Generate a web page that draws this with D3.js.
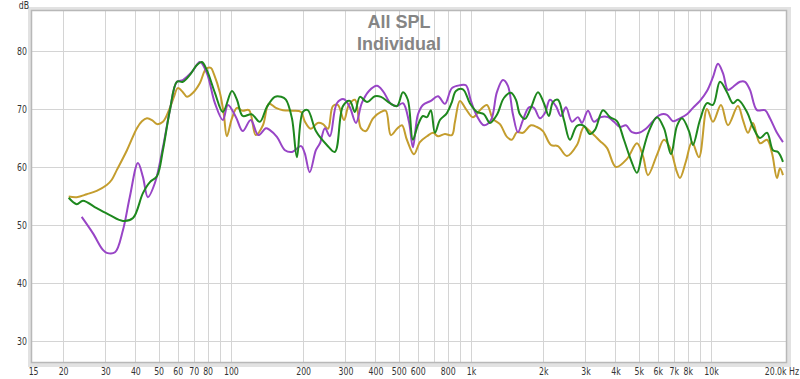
<!DOCTYPE html>
<html>
<head>
<meta charset="utf-8">
<script src="https://cdn.jsdelivr.net/npm/d3@7"></script>
<style>
  html, body { margin: 0; padding: 0; background: #fff; }
  svg { display: block; }
</style>
</head>
<body>
<svg id="chart" width="800" height="379"></svg>
<script>
// measured SPL, three positions (Hz / dB)
const goldFreq = [21.1,22.8,25.1,27.6,30.4,31.9,33.5,36.9,40.6,42.6,44.7,46.9,49.2,52.1,55.7,57.9,60.1,63.1,65.6,69.5,74.3,78.7,82.5,85.0,90.0,93.5,96.2,101,106,112,119,127,136,144,154,165,181,196,203,215,230,242,254,266,279,296,310,329,348,365,391,422,442,464,492,516,541,579,613,656,695,729,779,833,858,900,953,1019,1090,1166,1235,1321,1413,1482,1555,1647,1778,1884,1995,2154,2304,2512,2765,2957,3162,3447,3687,4019,4467,4917,5208,5464,5957,6371,6749,7218,7428,7868,8333,8913,9624,10193,11007,11771,12953,13594,14262,14962,16002,17113,17953,18836,19387,19953];
const goldDb = [54.9,54.8,55.3,55.9,56.9,57.8,59.5,62.9,66.7,67.9,68.4,68.1,67.4,67.8,70.2,72.1,73.6,72.9,72.1,72.8,74.5,76.9,77.1,76.0,72.8,69.0,65.3,68.4,70.2,69.7,69.8,65.5,67.2,70.9,70.2,69.8,69.7,69.5,67.9,66.6,67.6,67.4,66.6,70.5,70.7,68.1,70.7,71.6,66.7,66.2,68.4,69.5,69.7,65.5,66.6,67.2,64.7,62.2,64.3,65.3,65.9,65.3,65.7,65.5,67.8,71.4,70.0,68.6,69.8,70.7,68.3,67.4,65.2,64.7,66.0,65.9,67.2,66.9,66.2,63.8,63.6,61.9,63.8,66.9,66.0,64.5,63.3,60.0,61.4,64.1,61.9,58.6,62.1,64.7,63.3,59.1,58.1,61.0,64.3,61.7,70.0,67.8,70.7,67.2,70.5,68.1,65.9,67.6,64.1,64.7,62.4,58.1,59.8,58.6];

const greenFreq = [21.1,22.8,24.2,27.6,31.3,35.5,39.1,43.0,46.0,49.2,52.1,55.7,59.6,63.1,67.5,72.2,75.7,79.4,85.8,92.6,101,106,112,122,132,141,152.5,162,169.5,179.6,188.4,199.5,209,226,251,271,293,313,328.5,345,369,398,422,460,492,521,546,573,601,631,656,681,708,743,794,833,866,926,990,1059,1133,1200,1283,1372,1468,1540,1600,1679,1778,1902,2014,2113,2196,2304,2441,2585,2765,2957,3132,3286,3548,3795,4058,4340,4642,4917,5158,5516,5957,6371,6813,7218,7572,8097,8414,8998,9624,10193,10902,11659,12348,12953,14125,14962,16002,17113,18126,19019,19953];
const greenDb = [54.7,53.6,54.2,52.9,51.7,50.7,51.2,55.5,57.4,58.4,62.9,69.8,74.7,74.7,75.9,77.6,78.1,76.7,72.8,69.5,73.1,71.6,68.8,69.1,67.8,70.3,72.1,72.1,71.6,68.4,61.7,69.5,69.8,66.2,63.8,62.6,70.5,71.4,69.5,72.1,71.2,72.2,72.1,71.0,70.5,72.9,71.6,64.7,67.2,68.8,68.6,69.8,65.9,68.1,69.3,71.2,73.1,73.4,71.0,69.5,69.1,67.6,69.0,71.9,72.8,71.6,69.1,68.3,70.2,72.9,71.0,68.8,71.2,71.6,68.1,64.7,67.1,67.1,65.7,66.4,69.8,68.6,67.9,64.7,61.2,59.0,62.1,66.2,68.6,66.7,62.2,67.1,68.4,66.2,63.8,68.1,71.0,70.7,74.7,72.9,71.0,71.6,69.5,66.9,65.0,65.9,62.9,62.6,60.9];

const purpleFreq = [23.9,26.6,29.3,30.4,32.9,35.5,37.9,41.0,43.0,45.1,48.2,52.1,55.7,59.6,63.1,68.8,74.3,79.4,85.8,92.6,97.2,105,112,121,130,140,145,155.5,168,180,196,203,213,226,235,246.5,258.5,276.5,295.7,313,332,351,376,406,430,464,492,521,552,573,601,631,681,729,779,833,900,953,1000,1059,1133,1212,1283,1359,1426,1496,1570,1647,1745,1830,1939,2033,2134,2260,2371,2489,2636,2791,2900,3073,3254,3480,3723,3943,4177,4424,4686,5012,5359,5733,6131,6557,6947,7428,7943,8414,8998,9624,10193,10696,11220,11771,12348,13207,13857,14538,15548,16788,17612,18836,19953];
const purpleDb = [51.4,48.6,45.7,45.2,45.3,49.1,54.8,60.7,58.3,54.8,57.2,63.4,69.8,74.7,75.0,76.4,78.1,76.2,71.0,68.1,70.7,68.6,66.2,68.1,65.5,66.7,66.4,65.2,62.9,62.6,63.6,62.4,59.1,62.9,64.1,66.7,65.3,71.0,71.7,70.3,67.6,71.0,73.1,74.0,73.1,70.9,70.5,71.0,67.8,63.4,69.0,70.7,71.4,72.2,70.9,73.6,74.1,74.1,71.4,68.8,67.2,68.1,72.9,75.0,74.0,69.1,66.0,68.1,70.3,70.2,68.4,69.3,71.6,70.5,68.8,70.3,67.8,68.6,67.6,69.7,67.8,68.6,68.6,67.8,66.9,67.2,66.0,65.9,66.6,67.9,69.0,69.0,67.9,68.4,69.1,70.2,71.4,73.1,75.5,77.8,76.2,73.3,73.8,74.7,74.7,73.3,69.8,69.8,68.4,65.9,64.3];

const xTicks = [15,20,30,40,50,60,70,80,100,200,300,400,500,600,800,1000,2000,3000,4000,5000,6000,7000,8000,10000];
const xTickLabels = ['15','20','30','40','50','60','70','80','100','200','300','400','500','600','800','1k','2k','3k','4k','5k','6k','7k','8k','10k'];
const xGrid = [20,30,40,50,60,70,80,90,100,200,300,400,500,600,700,800,900,1000,2000,3000,4000,5000,6000,7000,8000,9000,10000];
const yTicks = [30,40,50,60,70,80];

const series = [
  {name: 'gold', freq: goldFreq, db: goldDb, color: '#c49d2e'},
  {name: 'purple', freq: purpleFreq, db: purpleDb, color: '#9845c6'},
  {name: 'green', freq: greenFreq, db: greenDb, color: '#1e881e'}
];

const svg = d3.select('#chart');
const L = 32, T = 11, R = 786, B = 362;
const labelFont = 'DejaVu Sans, Verdana, sans-serif';
const squeeze = 'scale(0.78,1)';   // labels in the original are narrow

const x = d3.scaleLog().domain([14.84, 20540]).range([L, R]);
const y = d3.scaleLinear().domain([26.38, 86.9]).range([B, T]);

// frame shading
svg.append('rect').attr('x', L - 2).attr('y', T - 2).attr('width', R - L + 5).attr('height', B - T + 5)
  .attr('fill', 'none').attr('stroke', '#e2e2e2').attr('stroke-width', 4);
svg.append('rect').attr('x', L).attr('y', T).attr('width', R - L).attr('height', B - T)
  .attr('fill', '#fff');

// grid
const grid = svg.append('g').attr('stroke', '#d4d4d4').attr('stroke-width', 1);
grid.selectAll('line.v').data(xGrid).join('line').attr('class', 'v')
  .attr('x1', d => Math.round(x(d)) + 0.5).attr('x2', d => Math.round(x(d)) + 0.5)
  .attr('y1', T).attr('y2', B);
grid.selectAll('line.h').data(yTicks).join('line').attr('class', 'h')
  .attr('y1', d => Math.round(y(d)) + 0.5).attr('y2', d => Math.round(y(d)) + 0.5)
  .attr('x1', L).attr('x2', R);

// title
const title = svg.append('g').attr('fill', '#858585').attr('font-family', 'Liberation Sans, Arial, sans-serif')
  .attr('font-weight', 'bold').attr('font-size', 18).attr('text-anchor', 'middle');
title.append('text').attr('x', 399).attr('y', 28).text('All SPL');
title.append('text').attr('x', 399).attr('y', 50).text('Individual');

// curves
const line = d3.line().curve(d3.curveCatmullRom.alpha(0.5))
  .x(d => x(d[0])).y(d => y(d[1]));
svg.append('g').selectAll('path').data(series).join('path')
  .attr('fill', 'none').attr('stroke', d => d.color).attr('stroke-width', 2)
  .attr('stroke-linejoin', 'round')
  .attr('d', d => line(d.freq.map((f, i) => [f, d.db[i]])));

// frame border
svg.append('rect').attr('x', L - 0.5).attr('y', T - 0.5).attr('width', R - L + 1).attr('height', B - T + 1)
  .attr('fill', 'none').attr('stroke', '#b8b8b8').attr('stroke-width', 1.5);

// axes (labels only)
const xAxis = d3.axisBottom(x).tickValues(xTicks).tickSize(0).tickPadding(0)
  .tickFormat((d, i) => xTickLabels[i]);
const gx = svg.append('g').attr('transform', `translate(0,${B + 13})`).call(xAxis);
gx.select('.domain').remove();
gx.selectAll('text').attr('dy', 0).attr('fill', '#333').attr('transform', squeeze)
  .attr('font-family', labelFont).attr('font-size', 10);

svg.append('g').attr('transform', `translate(799,${B + 13}) ${squeeze}`)
  .append('text').attr('text-anchor', 'end')
  .attr('fill', '#333').attr('font-family', labelFont).attr('font-size', 10)
  .text('20.0k Hz');

const yAxis = d3.axisLeft(y).tickValues(yTicks).tickSize(0).tickPadding(0);
const gy = svg.append('g').attr('transform', `translate(${L - 5},0)`).call(yAxis);
gy.select('.domain').remove();
gy.selectAll('text').attr('fill', '#333').attr('transform', squeeze)
  .attr('font-family', labelFont).attr('font-size', 10);

svg.append('g').attr('transform', `translate(29,9) ${squeeze}`)
  .append('text').attr('text-anchor', 'end')
  .attr('fill', '#333').attr('font-family', labelFont).attr('font-size', 10)
  .text('dB');
</script>
</body>
</html>
